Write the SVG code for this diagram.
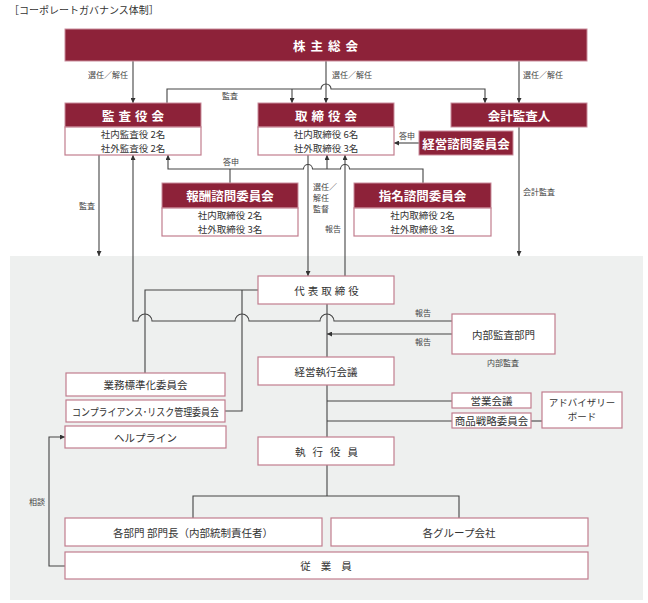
<svg xmlns="http://www.w3.org/2000/svg" width="648" height="603" viewBox="0 0 648 603">
<defs>
<marker id="ah" viewBox="0 0 6 6" refX="6" refY="3" markerWidth="5" markerHeight="5" markerUnits="userSpaceOnUse" orient="auto-start-reverse">
<path d="M0,0 L6,3 L0,6 Z" fill="#333"/>
</marker>
<style>
text{font-family:"Noto Sans CJK JP","Noto Sans",sans-serif;}
.hd{fill:#8d2239;stroke:#c98c9b;stroke-width:1;}
.wb{fill:#fff;stroke:#c17d8e;stroke-width:1.2;}
.ht{fill:#fff;font-weight:bold;font-size:12.5px;text-anchor:middle;dominant-baseline:central;}
.bt{fill:#333;font-size:10.5px;text-anchor:middle;dominant-baseline:central;}
.bs{fill:#333;font-size:9.5px;text-anchor:middle;}
.lb{fill:#444;font-size:8px;}
.ln{fill:none;stroke:#444;stroke-width:1.1;}
.ar{marker-end:url(#ah);}
.as{marker-start:url(#ah);}
</style>
</defs>
<rect width="648" height="603" fill="#fff"/>
<text x="9" y="14" font-size="10" fill="#333">［コーポレートガバナンス体制］</text>
<rect x="10" y="256" width="633" height="344" fill="#eef0ef"/>

<g id="connectors">
<path class="ln ar" d="M133,61 V103"/>
<path class="ln ar" d="M326,61 V103"/>
<path class="ln ar" d="M519,61 V103"/>
<path class="ln ar" d="M167,103 V89 H321 a5,5 0 0 1 10,0 H485 V103"/>
<path class="ln ar" d="M292,89 V103"/>
<path class="ln ar" d="M419,143 H394"/>
<path class="ln ar" d="M99,155 V256"/>
<path class="ln as" d="M133,155 V321 H138 a7,7 0 0 1 14,0 H235 a7,7 0 0 1 14,0 H320 a7,7 0 0 1 14,0 H452"/>
<path class="ln as" d="M168,155 V169 H303.5 a4.5,4.5 0 0 1 9,0 H340.5 a4.5,4.5 0 0 1 9,0 H423 V183"/>
<path class="ln ar" d="M327,169 V155"/>
<path class="ln" d="M230,169 V183"/>
<path class="ln ar" d="M308,155 V276"/>
<path class="ln ar" d="M345,276 V155"/>
<path class="ln ar" d="M519,127 V256"/>
<path class="ln" d="M258,290 H145 V373"/>
<path class="ln" d="M242,290 V411 H225"/>
<path class="ln" d="M327,304 V357"/>
<path class="ln ar" d="M452,334 H327"/>
<path class="ln" d="M327,385 V437"/>
<path class="ln" d="M327,401 H452"/>
<path class="ln" d="M327,421 H452"/>
<path class="ln" d="M531,421 H542"/>
<path class="ln" d="M327,465 V496"/>
<path class="ln" d="M193,518 V496 H459 V518"/>
<path class="ln ar" d="M65,566 H49 V437 H65"/>
</g>

<g id="labels">
<text class="lb" x="88" y="78">選任／解任</text>
<text class="lb" x="332" y="78">選任／解任</text>
<text class="lb" x="523" y="78">選任／解任</text>
<text class="lb" x="222" y="99">監査</text>
<text class="lb" x="399" y="139">答申</text>
<text class="lb" x="223" y="165">答申</text>
<text class="lb" x="79" y="209">監査</text>
<text class="lb" font-size="7.5"><tspan x="313" y="190">選任／</tspan><tspan x="313" y="201">解任</tspan><tspan x="313" y="212">監督</tspan></text>
<text class="lb" x="325" y="232">報告</text>
<text class="lb" x="523" y="195">会計監査</text>
<text class="lb" x="415" y="316">報告</text>
<text class="lb" x="415" y="345">報告</text>
<text class="lb" x="487" y="366">内部監査</text>
<text class="lb" x="29" y="505">相談</text>
</g>

<g id="n-kabunushi">
<rect class="hd" x="65" y="29" width="522" height="32"/>
<text class="ht" x="328" y="45" font-size="13" letter-spacing="5">株主総会</text>
</g>
<g id="n-kansayakukai">
<rect class="hd" x="65" y="103" width="136" height="24"/>
<rect class="wb" x="65" y="127" width="136" height="28"/>
<text class="ht" x="135" y="115" letter-spacing="4">監査役会</text>
<text class="bs"><tspan x="133" y="138">社内監査役 2名</tspan><tspan x="133" y="152">社外監査役 2名</tspan></text>
</g>
<g id="n-torishimariyakukai">
<rect class="hd" x="258" y="103" width="136" height="24"/>
<rect class="wb" x="258" y="127" width="136" height="28"/>
<text class="ht" x="328" y="115" letter-spacing="4">取締役会</text>
<text class="bs"><tspan x="326" y="138">社内取締役 6名</tspan><tspan x="326" y="152">社外取締役 3名</tspan></text>
</g>
<g id="n-kaikeikansanin">
<rect class="hd" x="451" y="103" width="136" height="24"/>
<text class="ht" x="519" y="115">会計監査人</text>
</g>
<g id="n-keiei-shimon">
<rect class="hd" x="419" y="131" width="94" height="24"/>
<text class="ht" x="466" y="143" font-size="12">経営諮問委員会</text>
</g>
<g id="n-hoshu">
<rect class="hd" x="162" y="183" width="136" height="25"/>
<rect class="wb" x="162" y="208" width="136" height="28"/>
<text class="ht" x="230" y="195.5" font-size="12">報酬諮問委員会</text>
<text class="bs"><tspan x="230" y="219">社内取締役 2名</tspan><tspan x="230" y="233">社外取締役 3名</tspan></text>
</g>
<g id="n-shimei">
<rect class="hd" x="354" y="183" width="137" height="25"/>
<rect class="wb" x="354" y="208" width="137" height="28"/>
<text class="ht" x="422.5" y="195.5" font-size="12">指名諮問委員会</text>
<text class="bs"><tspan x="422.5" y="219">社内取締役 2名</tspan><tspan x="422.5" y="233">社外取締役 3名</tspan></text>
</g>
<g id="n-daihyo">
<rect class="wb" x="258" y="276" width="136" height="28"/>
<text class="bt" x="328" y="290" font-size="11.5" letter-spacing="3">代表取締役</text>
</g>
<g id="n-naibukansa">
<rect class="wb" x="452" y="314" width="103" height="40"/>
<text class="bt" x="503.5" y="334" font-size="11">内部監査部門</text>
</g>
<g id="n-keieishikko">
<rect class="wb" x="258" y="357" width="136" height="28"/>
<text class="bt" x="326" y="371" font-size="11.5">経営執行会議</text>
</g>
<g id="n-eigyo">
<rect class="wb" x="452" y="393" width="79" height="15"/>
<text class="bt" x="491.5" y="400.5" font-size="10">営業会議</text>
</g>
<g id="n-shohin">
<rect class="wb" x="452" y="413" width="79" height="15"/>
<text class="bt" x="491.5" y="420.5" font-size="10">商品戦略委員会</text>
</g>
<g id="n-advisory">
<rect class="wb" x="542" y="392" width="80" height="36"/>
<text class="bs"><tspan x="582" y="406">アドバイザリー</tspan><tspan x="582" y="420">ボード</tspan></text>
</g>
<g id="n-gyomu">
<rect class="wb" x="66" y="373" width="159" height="23"/>
<text class="bt" x="145.5" y="384.5" font-size="10">業務標準化委員会</text>
</g>
<g id="n-compliance">
<rect class="wb" x="66" y="400" width="159" height="22"/>
<text class="bt" x="145.5" y="411" font-size="9.5" textLength="147" lengthAdjust="spacingAndGlyphs">コンプライアンス･リスク管理委員会</text>
</g>
<g id="n-helpline">
<rect class="wb" x="65" y="426" width="161" height="22"/>
<text class="bt" x="145.5" y="437" font-size="10">ヘルプライン</text>
</g>
<g id="n-shikkoyakuin">
<rect class="wb" x="258" y="437" width="136" height="28"/>
<text class="bt" x="330" y="451" font-size="11.5" letter-spacing="7">執行役員</text>
</g>
<g id="n-kakubumon">
<rect class="wb" x="65" y="518" width="257" height="28"/>
<text class="bt" x="193" y="532" font-size="11">各部門 部門長（内部統制責任者）</text>
</g>
<g id="n-group">
<rect class="wb" x="331" y="518" width="257" height="28"/>
<text class="bt" x="459" y="532" font-size="11">各グループ会社</text>
</g>
<g id="n-jugyoin">
<rect class="wb" x="65" y="552" width="523" height="27"/>
<text class="bt" x="331" y="565.5" font-size="11.5" letter-spacing="10">従業員</text>
</g>
</svg>
